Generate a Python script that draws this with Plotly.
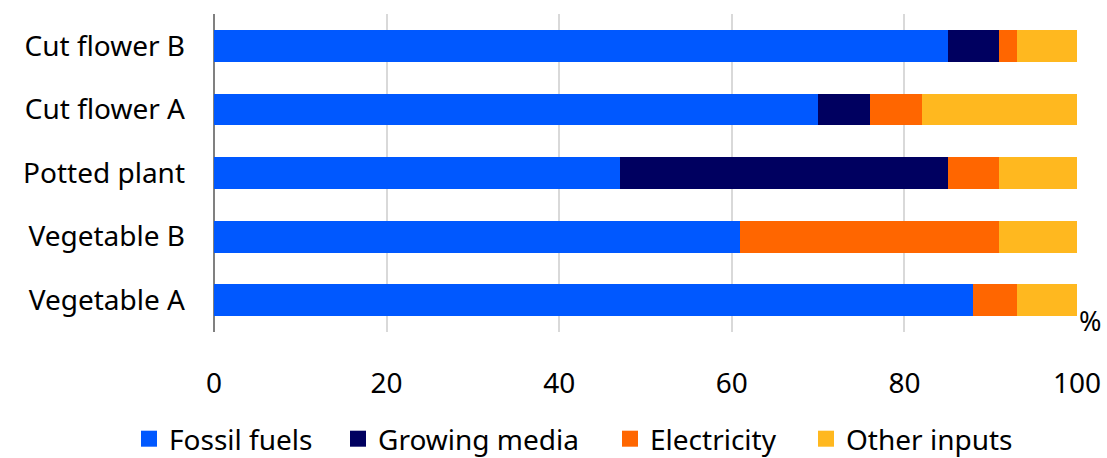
import plotly.graph_objects as go

categories = ["Vegetable A", "Vegetable B", "Potted plant", "Cut flower A", "Cut flower B"]
series_names = ["Fossil fuels", "Growing media", "Electricity", "Other inputs"]
fossil_fuels = [88, 61, 47, 70, 85]
growing_media = [0, 0, 38, 6, 6]
electricity = [5, 30, 6, 6, 2]
other_inputs = [7, 9, 9, 18, 7]
colors = ["#0058FF", "#000060", "#FF6600", "#FFB81F"]
x_ticks = [0, 20, 40, 60, 80, 100]

legend_ids = ["legend", "legend2", "legend3", "legend4"]
legend_x = [129, 338, 610, 806]

fig = go.Figure()
for name, vals, col in zip(series_names, [fossil_fuels, growing_media, electricity, other_inputs], colors):
    fig.add_trace(go.Bar(y=categories, x=vals, name=name, orientation="h", showlegend=False,
                         marker=dict(color=col, line=dict(width=0)), width=0.5))
for name, col, lid in zip(series_names, colors, legend_ids):
    fig.add_trace(go.Scatter(x=[None], y=[None], mode="markers", name=name, legend=lid,
                             marker=dict(symbol="square", size=18, color=col)))

font = "Noto Sans, Open Sans, sans-serif"
W, H = 1107, 458
layout_legends = {}
for lid, lx in zip(legend_ids, legend_x):
    layout_legends[lid] = dict(orientation="h", x=lx / W, xanchor="left", xref="container",
                               y=(H - 439) / H, yanchor="middle", yref="container",
                               font=dict(size=28), itemwidth=30, bgcolor="rgba(0,0,0,0)")

fig.update_layout(
    barmode="stack",
    width=W, height=H,
    margin=dict(l=214, r=30, t=14, b=126, autoexpand=False),
    plot_bgcolor="white", paper_bgcolor="white",
    font=dict(family=font, size=28, color="#000000"),
    showlegend=True,
    xaxis=dict(range=[0, 100], tickvals=x_ticks, showgrid=True, gridcolor="#D9D9D9", gridwidth=2,
               zeroline=True, zerolinecolor="#808080", zerolinewidth=2, showline=False,
               ticks="", ticklabelstandoff=32, fixedrange=True, automargin=False),
    yaxis=dict(showgrid=False, ticks="", ticklabelstandoff=28, showline=False,
               range=[-0.5, 4.5], automargin=False),
    annotations=[dict(text="%", x=1.0, y=0, xref="paper", yref="paper", xanchor="left",
                      yanchor="middle", showarrow=False, font=dict(size=27), xshift=0, yshift=12)],
    **layout_legends,
)
fig.write_html("out.html")
